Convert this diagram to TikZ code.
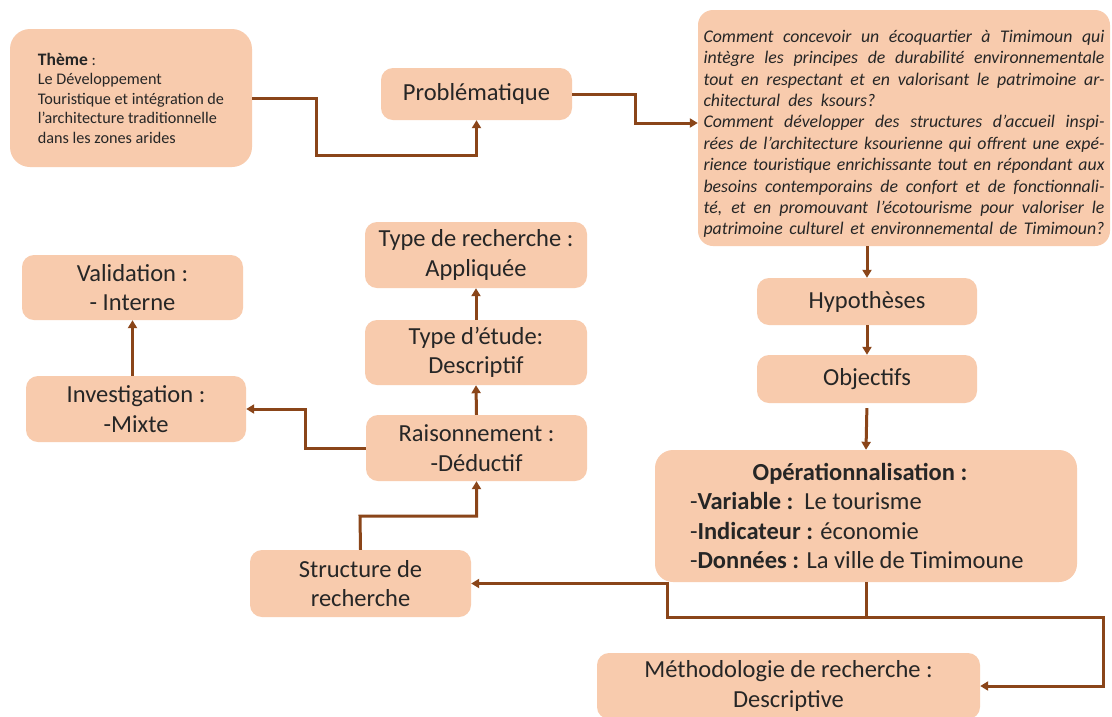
\documentclass[tikz,border=0pt]{standalone}
\usepackage{fontspec}
\setmainfont{Carlito}
\usetikzlibrary{arrows.meta,calc}
\definecolor{peach}{HTML}{F8CBAD}
\definecolor{brn}{HTML}{8A4519}
\definecolor{txt}{HTML}{262626}
\begin{document}
\begin{tikzpicture}[x=1pt,y=-1pt,
  box/.style={fill=peach,rounded corners=12pt,text=txt,font=\fontsize{24.5}{29.5}\selectfont,align=center,inner sep=0pt},
  conn/.style={draw=brn,line width=3pt,-{Triangle[length=8pt,width=9pt]}}]
\useasboundingbox (0,0) rectangle (1112,716);
\fill[white] (0,0) rectangle (1112,716);

\node[box,minimum width=242pt,minimum height=138pt,rounded corners=20pt,align=left,font=\fontsize{16.2}{19.5}\selectfont] (theme) at (131,98)
  {{\fontsize{17.5}{19.5}\selectfont\bfseries Thème} :\\Le Développement\\Touristique et intégration de\\l'architecture traditionnelle\\dans les zones arides};

\node[box,minimum width=191pt,minimum height=52pt] (prob) at (476.5,94) {Problématique};

\node[box,minimum width=412pt,minimum height=236pt,rounded corners=15pt,align=left,font=\fontsize{17.8}{21.4}\selectfont\itshape] (quest) at (904,128)
  {\makebox[401pt][s]{\rule{0pt}{24pt}Comment concevoir un écoquartier à Timimoun qui}\\
   \makebox[401pt][s]{intègre les principes de durabilité environnementale}\\
   \makebox[401pt][s]{tout en respectant et en valorisant le patrimoine ar-}\\
   chitectural\ \ des\ \ ksours?\\
   \makebox[401pt][s]{Comment développer des structures d’accueil inspi-}\\
   \makebox[401pt][s]{rées de l’architecture ksourienne qui offrent une expé-}\\
   \makebox[401pt][s]{rience touristique enrichissante tout en répondant aux}\\
   \makebox[401pt][s]{besoins contemporains de confort et de fonctionnali-}\\
   \makebox[401pt][s]{té, et en promouvant l’écotourisme pour valoriser le}\\
   \makebox[401pt][s]{patrimoine culturel et environnemental de Timimoun?}};

\node[box,minimum width=222pt,minimum height=66pt] (typerech) at (476,255) {Type de recherche :\\Appliquée};
\node[box,minimum width=221pt,minimum height=65pt] (valid) at (132.5,287.5) {Validation :\\- Interne};
\node[box,minimum width=222pt,minimum height=65pt] (etude) at (476,352.5) {Type d’étude:\\Descriptif};
\node[box,minimum width=220pt,minimum height=47pt] (hyp) at (867,301.5) {Hypothèses};
\node[box,minimum width=220pt,minimum height=66pt] (invest) at (136,409) {Investigation :\\-Mixte};
\node[box,minimum width=221pt,minimum height=66pt] (rais) at (476.5,448) {Raisonnement :\\-Déductif};
\node[box,minimum width=220pt,minimum height=48pt] (obj) at (867,379) {Objectifs};
\node[box,minimum width=422pt,minimum height=132pt,rounded corners=18pt] (oper) at (866,516)
  {\makebox[352pt][c]{\hspace*{-12pt}\textbf{Opérationnalisation :}}\\
   \makebox[352pt][l]{-\textbf{Variable :}\ \ Le tourisme}\\
   \makebox[352pt][l]{-\textbf{Indicateur :} économie}\\
   \makebox[352pt][l]{-\textbf{Données :} La ville de Timimoune}};
\node[box,minimum width=221pt,minimum height=67pt] (struct) at (360.5,583.5) {Structure de\\recherche};
\node[box,minimum width=383pt,minimum height=66pt] (meth) at (788.5,686) {Méthodologie de recherche :\\Descriptive};

\draw[conn] (theme.east) -- (316,98) -- (316,155) -| (prob.south);
\draw[conn] (prob.east) -- (635,94) |- ($(quest.west)+(0,-5)$);
\draw[conn] (quest.south -| hyp.north) -- (hyp.north);
\draw[conn] (hyp.south) -- (obj.north);
\draw[conn,shorten <=5pt] (obj.south) -- (oper.north);
\draw[conn] (oper.south) -- (866,617) -- (667,617) |- (struct.east);
\draw[conn] (oper.south) -- (866,617) -- (1103,617) |- (meth.east);
\draw[conn] (struct.north) -- (360,516) -| (rais.south);
\draw[conn] (rais.west) -- (305,448) |- (invest.east);
\draw[conn] (rais.north) -- (etude.south);
\draw[conn] (etude.north) -- (typerech.south);
\draw[conn] (invest.north -| valid.south) -- (valid.south);
\end{tikzpicture}
\end{document}
